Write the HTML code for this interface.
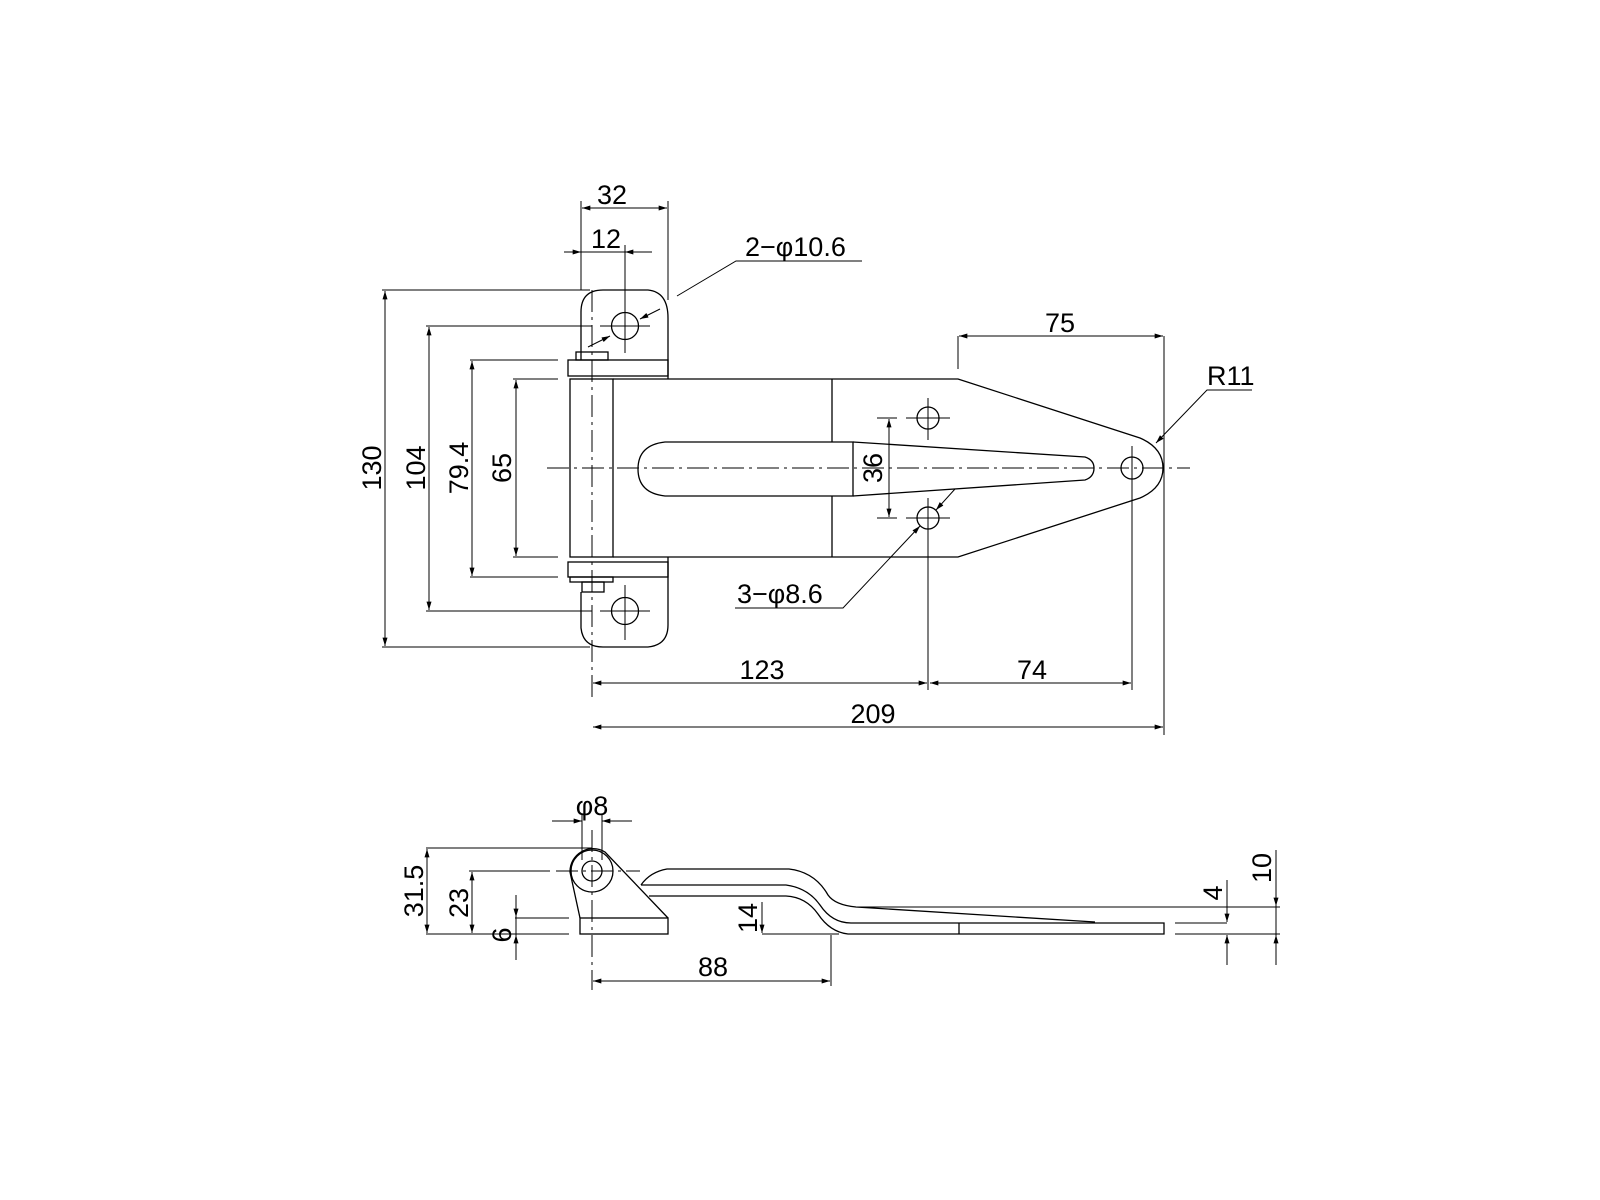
<!DOCTYPE html>
<html><head><meta charset="utf-8"><style>
html,body{margin:0;padding:0;background:#fff}
svg{display:block}
text{font-family:"Liberation Sans",sans-serif;font-size:27px;fill:#000}
</style></head><body>
<svg width="1600" height="1200" viewBox="0 0 1600 1200" xmlns="http://www.w3.org/2000/svg">
<defs>
<marker id="a" viewBox="0 0 10 6" refX="10" refY="3" markerWidth="10" markerHeight="5" orient="auto-start-reverse" markerUnits="userSpaceOnUse"><path d="M0,0 L10,3 L0,6 z" fill="#000"/></marker>
</defs>
<g fill="none" stroke="#000" stroke-width="1.3">
<!-- top ear -->
<path d="M581,360 L581,312 Q581,290 603,290 L648,290 Q668,292 668,318 L668,379"/>
<circle cx="625" cy="326" r="13.5"/>
<!-- bottom ear -->
<path d="M581,592 L581,628 Q583,647 603,647 L648,647 Q668,645 668,625 L668,557"/>
<circle cx="625" cy="611" r="13.5"/>
<!-- washers -->
<rect x="568" y="360" width="100" height="16"/>
<rect x="576" y="352" width="32" height="8"/>
<rect x="568" y="562" width="100" height="15"/>
<rect x="570" y="577" width="43" height="5"/>
<rect x="582" y="582" width="22" height="10"/>
<!-- pin -->
<rect x="570" y="379" width="43" height="178"/>
<!-- body -->
<path d="M613,379 L958,379 L1140,438 Q1163,448 1163,468 Q1163,488 1140,498 L958,557 L613,557"/>
<line x1="832" y1="379" x2="832" y2="442"/>
<line x1="832" y1="496" x2="832" y2="557"/>
<!-- slot -->
<path d="M853,442 L665,442 Q638,445 638,469 Q638,493 665,496 L853,496 Z"/>
<path d="M853,442 L1085,457 Q1094,460 1094,468 Q1094,477 1085,480 L853,496"/>
<circle cx="1132" cy="468" r="11"/>
<circle cx="928" cy="418" r="11"/>
<circle cx="928" cy="518" r="11"/>
</g>
<!-- center lines -->
<g stroke="#000" stroke-width="1" fill="none" stroke-dasharray="22,5,3,5">
<line x1="547" y1="468" x2="1190" y2="468"/>
<line x1="592" y1="290" x2="592" y2="700"/>
</g>
<g stroke="#000" stroke-width="1" fill="none">
<line x1="600" y1="326" x2="650" y2="326"/><line x1="625" y1="300" x2="625" y2="353"/>
<line x1="600" y1="611" x2="650" y2="611"/><line x1="625" y1="585" x2="625" y2="640"/>
<line x1="906" y1="418" x2="950" y2="418"/><line x1="928" y1="398" x2="928" y2="440"/>
<line x1="906" y1="518" x2="950" y2="518"/><line x1="928" y1="498" x2="928" y2="690"/>
<line x1="1132" y1="446" x2="1132" y2="690"/>
<line x1="1164" y1="336" x2="1164" y2="735"/>
<line x1="958" y1="336" x2="958" y2="369"/>
<!-- extension lines left -->
<line x1="382" y1="290" x2="590" y2="290"/>
<line x1="382" y1="647" x2="590" y2="647"/>
<line x1="426" y1="326" x2="592" y2="326"/>
<line x1="426" y1="611" x2="592" y2="611"/>
<line x1="470" y1="360" x2="558" y2="360"/>
<line x1="470" y1="577" x2="558" y2="577"/>
<line x1="513" y1="379" x2="558" y2="379"/>
<line x1="513" y1="557" x2="558" y2="557"/>
<line x1="581" y1="201" x2="581" y2="290"/>
<line x1="668" y1="201" x2="668" y2="300"/>
<line x1="625" y1="245" x2="625" y2="300"/>
<line x1="877" y1="418" x2="897" y2="418"/>
<line x1="877" y1="518" x2="897" y2="518"/>
<!-- dim lines -->
<line x1="385" y1="291" x2="385" y2="646" marker-start="url(#a)" marker-end="url(#a)"/>
<line x1="429" y1="327" x2="429" y2="610" marker-start="url(#a)" marker-end="url(#a)"/>
<line x1="472" y1="361" x2="472" y2="576" marker-start="url(#a)" marker-end="url(#a)"/>
<line x1="516" y1="380" x2="516" y2="556" marker-start="url(#a)" marker-end="url(#a)"/>
<line x1="889" y1="419" x2="889" y2="517" marker-start="url(#a)" marker-end="url(#a)"/>
<line x1="582" y1="208" x2="667" y2="208" marker-start="url(#a)" marker-end="url(#a)"/>
<line x1="564" y1="252" x2="581" y2="252" marker-end="url(#a)"/>
<line x1="652" y1="252" x2="625" y2="252" marker-end="url(#a)"/>
<line x1="581" y1="252" x2="625" y2="252"/>
<line x1="959" y1="336" x2="1163" y2="336" marker-start="url(#a)" marker-end="url(#a)"/>
<line x1="593" y1="683" x2="927" y2="683" marker-start="url(#a)" marker-end="url(#a)"/>
<line x1="930" y1="683" x2="1131" y2="683" marker-start="url(#a)" marker-end="url(#a)"/>
<line x1="593" y1="727" x2="1163" y2="727" marker-start="url(#a)" marker-end="url(#a)"/>
<!-- leaders -->
<polyline points="862,261 736,261 677,296"/>
<line x1="660" y1="309" x2="640" y2="319" marker-end="url(#a)"/>
<line x1="588" y1="347" x2="610" y2="336" marker-end="url(#a)"/>
<polyline points="1252,390 1207,390 1156,443" marker-end="url(#a)"/>
<polyline points="735,608 843,608 920,526" marker-end="url(#a)"/>
<line x1="955" y1="489" x2="936" y2="510" marker-end="url(#a)"/>
</g>
<g>
<text x="612" y="204" text-anchor="middle">32</text>
<text x="606" y="248" text-anchor="middle">12</text>
<text x="745" y="256">2−φ10.6</text>
<text x="1060" y="332" text-anchor="middle">75</text>
<text x="1207" y="385">R11</text>
<text x="737" y="603">3−φ8.6</text>
<text x="762" y="679" text-anchor="middle">123</text>
<text x="1032" y="679" text-anchor="middle">74</text>
<text x="873" y="723" text-anchor="middle">209</text>
<text transform="translate(381,468) rotate(-90)" text-anchor="middle">130</text>
<text transform="translate(425,468) rotate(-90)" text-anchor="middle">104</text>
<text transform="translate(468,468) rotate(-90)" text-anchor="middle">79.4</text>
<text transform="translate(511,468) rotate(-90)" text-anchor="middle">65</text>
<text transform="translate(882,468) rotate(-90)" text-anchor="middle">36</text>
</g>
<!-- side view -->
<g fill="none" stroke="#000" stroke-width="1.3">
<rect x="580" y="918" width="88" height="16"/>
<circle cx="592" cy="871" r="10"/>
<circle cx="592" cy="871" r="21"/>
<path d="M580,918 L570,872 A23,23 0 0 1 605,852 L668,918"/>
<path d="M641,885 Q650,872 667,869 L789,869 Q815,872 828,895 Q835,905 856,907 L1095,922"/>
<path d="M641,885 L786,885 Q808,888 820,905 Q832,923 851,923 L1164,923 L1164,934 L848,934 Q830,932 818,914 Q806,897 786,896 L649,896"/>
<line x1="959" y1="923" x2="959" y2="934"/>
</g>
<g stroke="#000" stroke-width="1" fill="none">
<line x1="556" y1="871" x2="640" y2="871" stroke-dasharray="22,5,3,5"/>
<line x1="592" y1="830" x2="592" y2="990" stroke-dasharray="22,5,3,5"/>
<line x1="582" y1="815" x2="582" y2="860"/>
<line x1="602" y1="815" x2="602" y2="860"/>
<line x1="552" y1="821" x2="582" y2="821" marker-end="url(#a)"/>
<line x1="632" y1="821" x2="602" y2="821" marker-end="url(#a)"/>
<line x1="426" y1="848" x2="592" y2="848"/>
<line x1="469" y1="871" x2="550" y2="871"/>
<line x1="515" y1="918" x2="569" y2="918"/>
<line x1="426" y1="934" x2="569" y2="934"/>
<line x1="762" y1="934" x2="839" y2="934"/>
<line x1="856" y1="907" x2="1280" y2="907"/>
<line x1="1175" y1="923" x2="1227" y2="923"/>
<line x1="1175" y1="934" x2="1280" y2="934"/>
<line x1="427" y1="849" x2="427" y2="933" marker-start="url(#a)" marker-end="url(#a)"/>
<line x1="472" y1="872" x2="472" y2="933" marker-start="url(#a)" marker-end="url(#a)"/>
<line x1="516" y1="895" x2="516" y2="917" marker-end="url(#a)"/>
<line x1="516" y1="960" x2="516" y2="935" marker-end="url(#a)"/>
<line x1="516" y1="917" x2="516" y2="935"/>
<line x1="762" y1="902" x2="762" y2="933" marker-end="url(#a)"/>
<line x1="1227" y1="880" x2="1227" y2="922" marker-end="url(#a)"/>
<line x1="1227" y1="965" x2="1227" y2="935" marker-end="url(#a)"/>
<line x1="1276" y1="850" x2="1276" y2="906" marker-end="url(#a)"/>
<line x1="1276" y1="965" x2="1276" y2="935" marker-end="url(#a)"/>
<line x1="1276" y1="906" x2="1276" y2="935"/>
<line x1="831" y1="935" x2="831" y2="986"/>
<line x1="593" y1="981" x2="830" y2="981" marker-start="url(#a)" marker-end="url(#a)"/>
</g>
<g>
<text x="592" y="815" text-anchor="middle">φ8</text>
<text x="713" y="976" text-anchor="middle">88</text>
<text transform="translate(423,891) rotate(-90)" text-anchor="middle">31.5</text>
<text transform="translate(468,903) rotate(-90)" text-anchor="middle">23</text>
<text transform="translate(511,935) rotate(-90)" text-anchor="middle">6</text>
<text transform="translate(757,918) rotate(-90)" text-anchor="middle">14</text>
<text transform="translate(1222,893) rotate(-90)" text-anchor="middle">4</text>
<text transform="translate(1271,868) rotate(-90)" text-anchor="middle">10</text>
</g>
</svg>
</body></html>
